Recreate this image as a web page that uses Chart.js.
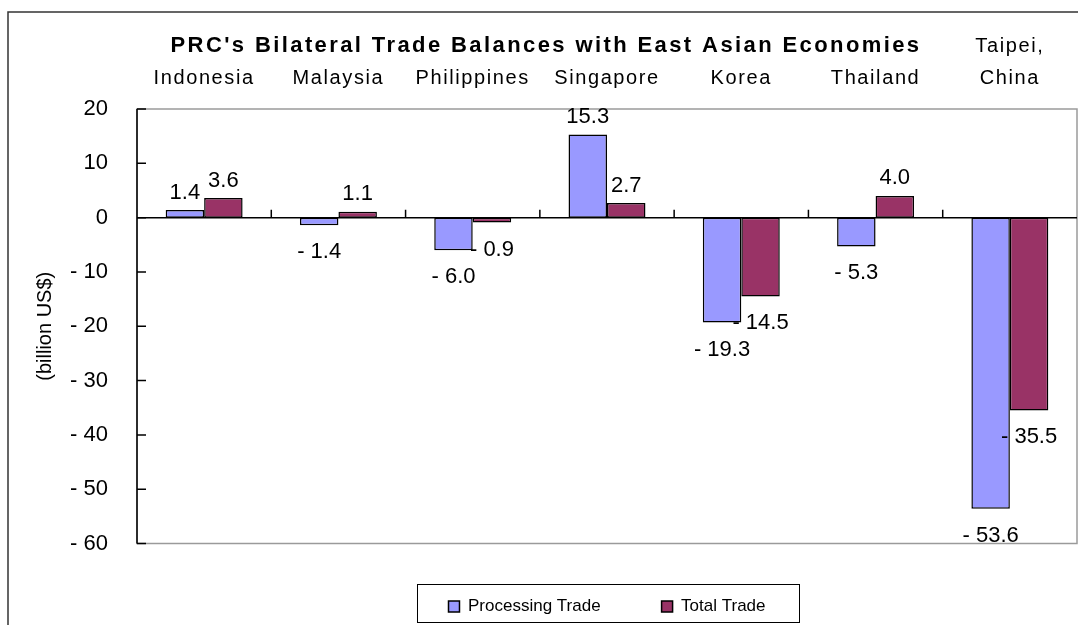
<!DOCTYPE html>
<html>
<head>
<meta charset="utf-8">
<title>PRC's Bilateral Trade Balances with East Asian Economies</title>
<script src="https://cdn.jsdelivr.net/npm/chart.js@4.4.0/dist/chart.umd.min.js"></script>
<style>
  html, body { margin: 0; padding: 0; background: #fff; }
  #wrap { width: 1078px; height: 625px; }
</style>
</head>
<body>
<div id="wrap"><canvas id="myChart" width="1078" height="625"></canvas></div>
<script>
// data (billion US$)
const economies = ["Indonesia", "Malaysia", "Philippines", "Singapore", "Korea", "Thailand", ["Taipei,", "China"]];
const processingTrade = [1.4, -1.4, -6.0, 15.3, -19.3, -5.3, -53.6];
const totalTrade = [3.6, 1.1, -0.9, 2.7, -14.5, 4.0, -35.5];
const yTicks = [20, 10, 0, -10, -20, -30, -40, -50, -60];
const chartTitle = "PRC's Bilateral Trade Balances with East Asian Economies";

const FONT = "Arial, 'Liberation Sans', sans-serif";

// excel style negative numbers: "- 1.4"
const signed = (v, digits) => (v < 0 ? "- " + Math.abs(v).toFixed(digits) : v.toFixed(digits));

const excelLook = {
  id: "excelLook",
  beforeDatasetsDraw(chart) {
    const { ctx, chartArea: a } = chart;
    const y = chart.scales.y;
    ctx.save();
    // plot frame
    ctx.strokeStyle = "#9a9a9a";
    ctx.lineWidth = 1.5;
    ctx.strokeRect(a.left, a.top, a.right - a.left, a.bottom - a.top);
    // value axis with inward tick marks
    ctx.strokeStyle = "#000";
    ctx.beginPath();
    ctx.moveTo(a.left, a.top);
    ctx.lineTo(a.left, a.bottom);
    y.ticks.forEach((t) => {
      const py = y.getPixelForValue(t.value);
      ctx.moveTo(a.left, py);
      ctx.lineTo(a.left + 9, py);
    });
    ctx.stroke();
    ctx.restore();
  },
  afterDatasetsDraw(chart) {
    const { ctx, chartArea: a } = chart;
    const x = chart.scales.x;
    const y0 = chart.scales.y.getPixelForValue(0);
    ctx.save();
    // zero line + category separators
    ctx.strokeStyle = "#000";
    ctx.lineWidth = 1.5;
    ctx.beginPath();
    ctx.moveTo(a.left, y0);
    ctx.lineTo(a.right, y0);
    for (let i = 1; i < economies.length; i++) {
      const px = x.getPixelForValue(i - 0.5);
      ctx.moveTo(px, y0);
      ctx.lineTo(px, y0 - 8);
    }
    ctx.stroke();

    // value labels
    ctx.fillStyle = "#000";
    ctx.font = "22px " + FONT;
    ctx.textAlign = "center";
    ctx.textBaseline = "middle";
    chart.data.datasets.forEach((ds, di) => {
      chart.getDatasetMeta(di).data.forEach((bar, i) => {
        const v = ds.data[i];
        ctx.fillText(signed(v, 1), bar.x, v >= 0 ? bar.y - 17.5 : bar.y + 27);
      });
    });
    ctx.restore();
    // category labels (drawn after this hook) are spaced out like the original
    ctx.letterSpacing = "1.6px";
  },
  afterDraw(chart) {
    const { ctx } = chart;
    ctx.letterSpacing = "0px";
    ctx.save();
    // title
    ctx.fillStyle = "#000";
    ctx.font = "bold 22px " + FONT;
    ctx.textAlign = "center";
    ctx.textBaseline = "middle";
    ctx.letterSpacing = "2.4px";
    ctx.fillText(chartTitle, 546, 46);
    ctx.letterSpacing = "0px";

    // outer chart frame (only top and left are inside the picture)
    ctx.strokeStyle = "#333";
    ctx.lineWidth = 1.5;
    ctx.beginPath();
    ctx.moveTo(8, chart.height);
    ctx.lineTo(8, 12);
    ctx.lineTo(chart.width, 12);
    ctx.stroke();

    // legend frame
    const hb = chart.legend.legendHitBoxes;
    if (hb && hb.length) {
      const last = hb[hb.length - 1];
      const l = hb[0].left - 31;
      const r = last.left + last.width + 34;
      const t = hb[0].top - 13.5;
      const b = hb[0].top + 24.5;
      ctx.strokeStyle = "#000";
      ctx.lineWidth = 1;
      ctx.strokeRect(l, t, r - l, b - t);
    }
    ctx.restore();
  }
};

new Chart(document.getElementById("myChart"), {
  type: "bar",
  data: {
    labels: economies,
    datasets: [
      {
        label: "Processing Trade",
        data: processingTrade,
        backgroundColor: "#9999ff",
        borderColor: "#000",
        borderWidth: 1.5,
        borderSkipped: false,
        categoryPercentage: 0.573,
        barPercentage: 1
      },
      {
        label: "Total Trade",
        data: totalTrade,
        backgroundColor: "#993366",
        borderColor: "#000",
        borderWidth: 1.5,
        borderSkipped: false,
        categoryPercentage: 0.573,
        barPercentage: 1
      }
    ]
  },
  options: {
    responsive: false,
    animation: false,
    devicePixelRatio: 1,
    layout: { padding: { left: 20, right: 1, top: 0, bottom: 0 } },
    scales: {
      x: {
        position: "top",
        grid: { display: false, drawTicks: false },
        border: { display: false },
        ticks: {
          z: 1,
          color: "#000",
          padding: 15,
          autoSkip: false,
          maxRotation: 0,
          font: { family: FONT, size: 20, lineHeight: 1.6 }
        },
        afterFit: (s) => { s.height = 109; }
      },
      y: {
        min: -60,
        max: 20,
        afterBuildTicks: (s) => { s.ticks = yTicks.map((v) => ({ value: v })); },
        grid: { display: false, drawTicks: false },
        border: { display: false },
        ticks: {
          color: "#000",
          padding: 29,
          font: { family: FONT, size: 22 },
          callback: (v) => signed(v, 0)
        },
        title: {
          display: true,
          text: "(billion US$)",
          color: "#000",
          font: { family: FONT, size: 20 },
          padding: { top: 13, bottom: 0 }
        },
        afterFit: (s) => { s.width = 117; }
      }
    },
    plugins: {
      tooltip: { enabled: false },
      legend: {
        position: "bottom",
        fullSize: false,
        title: { display: true, text: "", font: { size: 10 }, padding: { top: -18.5, bottom: 0 } },
        labels: {
          color: "#000",
          boxWidth: 11,
          boxHeight: 11,
          padding: 61,
          font: { family: FONT, size: 17 }
        }
      }
    }
  },
  plugins: [excelLook]
});
</script>
</body>
</html>
